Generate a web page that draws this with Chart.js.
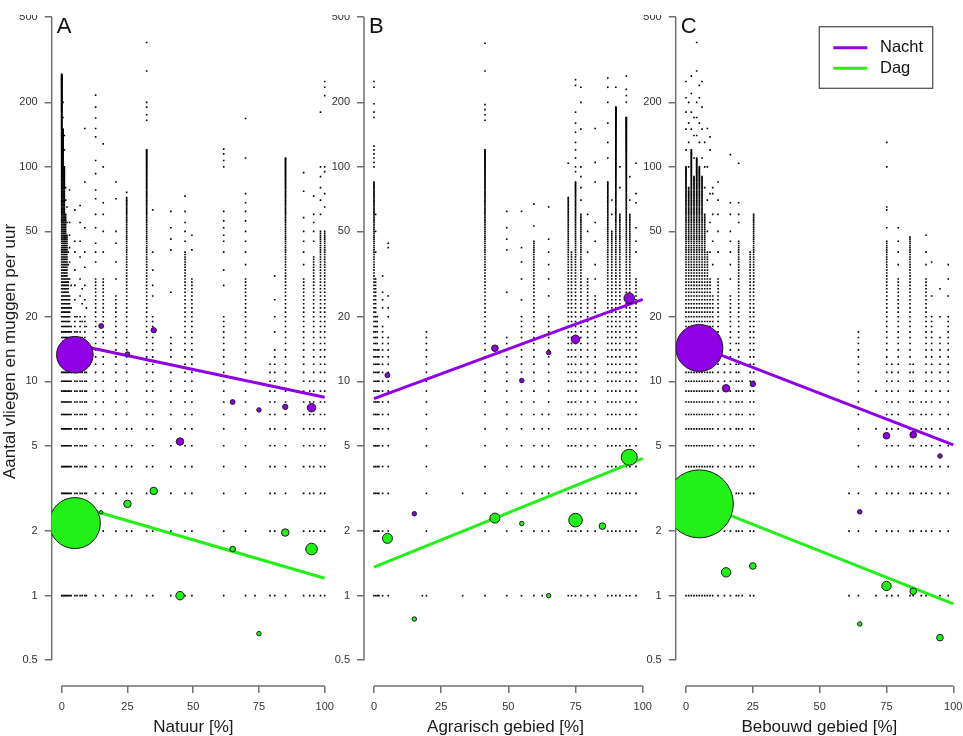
<!DOCTYPE html>
<html>
<head>
<meta charset="utf-8">
<script src="https://cdn.jsdelivr.net/npm/chart.js@4.4.1/dist/chart.umd.min.js"></script>
<style>
  html, body { margin: 0; padding: 0; background: #fff; }
  body { width: 963px; height: 736px; position: relative; overflow: hidden; }
  canvas { position: absolute; }
</style>
</head>
<body>
<canvas id="panelA"></canvas>
<canvas id="panelB"></canvas>
<canvas id="panelC"></canvas>
<script>
// Tick labels and shared categories
const yTicks = [0.5, 1, 2, 5, 10, 20, 50, 100, 200, 500];
const xTicks = [0, 25, 50, 75, 100];
const binMids = [5, 15, 25, 35, 45, 55, 65, 75, 85, 95];
const fitX = [0, 100];
const seriesNames = ["Nacht", "Dag"];

// Raw hourly counts per site: [land use %, all counts 1..n seen, higher single counts]
const rawNatuur = [
  [0, 270, []], [0.5, 150, [170, 200]], [1, 100, [120, 140]], [1.5, 60, [70, 80]],
  [2, 48, [55, 65]], [2.5, 30, [35, 40]], [3, 25, [30, 36, 42, 48, 55, 78]], [3.6, 18, [22, 28]],
  [5, 20, [24, 28, 33, 40, 45, 63]], [5.8, 14, [17, 20]], [7, 20, [25, 30, 38, 45, 55, 66]],
  [7.8, 16, [19, 23, 27]], [8.8, 20, [24, 28, 34, 40, 52, 85, 151]], [9.4, 14, [18, 22]],
  [12.9, 30, [36, 40, 44, 52, 60, 71, 78, 93, 107, 138, 151, 169, 190, 216]],
  [15.8, 30, [40, 50, 60, 68, 100, 128]], [20.6, 25, [30, 36, 44, 50, 71, 85]],
  [24.7, 72, [76]], [26.6, 6, []], [32.3, 120, [165, 175, 190, 200, 280, 380]],
  [34.6, 20, [25, 28, 33, 40, 63]], [41.5, 16, [26, 41, 46, 52, 62]],
  [46.9, 40, [45, 50, 55, 62, 73]], [49.5, 30, [41, 48]],
  [61.6, 20, [28, 33, 40, 45, 48, 52, 56, 62, 100, 107, 115, 121]],
  [69.9, 30, [35, 40, 45, 50, 56, 62, 68, 75, 110, 168]], [73.5, 0, [1]],
  [79.2, 12, []], [81, 14, [17, 20, 24, 31]], [85.1, 110, []],
  [92, 30, [35, 40, 45, 50, 58, 77, 94]], [94.3, 10, []], [95.8, 38, [45, 50, 55, 60, 73]],
  [98.4, 50, [60, 70, 80, 90, 100, 180]], [100, 50, [65, 75, 95, 100, 215, 235, 250]]
];
const rawAgrarisch = [
  [0, 85, [100, 105, 110, 115, 120, 125, 170, 180, 197, 235, 250]], [0.6, 30, [40, 50, 60]],
  [1.2, 20, []], [1.8, 14, []], [3.2, 18, [22, 24, 26, 31]], [5.3, 16, [20, 22, 25, 42, 44]],
  [18, 0, [1]], [19.5, 17, []], [33, 0, [1, 3]], [41.3, 120, [165, 175, 185, 195, 280, 377]],
  [49.4, 16, [26, 41, 46, 52, 62]], [54.9, 20, [24, 30, 36, 42, 62]], [59.5, 45, [53, 67]],
  [62.6, 7, []], [65, 20, [25, 30, 35, 40, 46, 65]], [72.3, 72, [104]], [73.5, 40, []],
  [75, 85, [95, 100, 110, 120, 130, 145, 160, 180, 240, 255]],
  [77, 60, [70, 80, 90, 100, 150, 200, 235]], [79.5, 30, [40, 50, 60]],
  [82.3, 25, [30, 35, 45, 55, 85, 105, 151]], [87, 85, [110, 130, 160, 200, 235, 260]],
  [88.5, 50, [60, 70]], [90, 190, [235]], [91.5, 60, [80, 100]],
  [93.9, 170, [200, 215, 230, 265]], [95.2, 60, [70, 90]], [97.5, 30, [40, 45, 52, 68, 75, 104]]
];
const rawBebouwd = [
  [0, 100, [120, 150, 180, 210, 250]], [1, 80, [100, 130, 160, 200]], [2, 120, [150, 180, 220, 265]],
  [3, 90, [110, 140, 170]], [4, 110, [140, 170, 200, 280, 380]], [5, 100, [130, 160, 210, 240]],
  [6, 90, [110, 150, 190, 250]], [7, 60, [80, 100, 130]], [8, 40, [50, 70, 100, 151]],
  [9, 30, [40, 55, 75, 120, 138]], [10, 25, [35, 45, 60, 75, 80]], [12, 30, [40, 50, 60, 70, 85]],
  [14.4, 12, []], [16.6, 25, [30, 35, 40, 45, 50, 60, 68, 114]], [18.8, 12, [15]],
  [19.7, 45, [55, 60, 68, 104]], [21, 10, []], [24, 40, []], [25.3, 60, []],
  [61, 0, [1, 2, 3]], [64.5, 17, []], [71.1, 0, [1, 2, 3, 4, 6, 9]],
  [75.1, 45, [52, 63, 65, 100, 130]], [77, 12, []], [79.4, 30, [35, 40, 45, 52]],
  [83.8, 47, []], [85, 12, []], [88, 8, []], [89.8, 30, [35, 40, 48]], [91.9, 20, [25, 36]],
  [95, 16, [20, 27]], [98.1, 20, [25, 30, 35]]
];

// Mean count per 10% class, and number of samples behind it
const nachtNatuur = [13.3, 18.1, 13.4, 17.3, 5.23, null, 8.0, 7.35, 7.6, 7.53];
const nachtNatuurN = [335, 6, 5, 7, 14, null, 6, 5, 7, 18];
const dagNatuur = [2.18, 2.45, 2.68, 3.08, 1.0, null, 1.65, 0.665, 1.97, 1.65];
const dagNatuurN = [650, 3, 14, 14, 18, null, 8, 5, 14, 34];

const nachtAgrarisch = [10.67, 2.41, null, null, 14.26, 10.07, 13.6, 15.7, null, 24.4];
const nachtAgrarischN = [6, 5, null, null, 11, 5, 5, 18, null, 28];
const dagAgrarisch = [1.85, 0.778, null, null, 2.3, 2.17, 1.0, 2.25, 2.11, 4.42];
const dagAgrarischN = [25, 5, null, null, 25, 5, 5, 46, 11, 64];

const nachtBebouwd = [14.3, 9.27, 9.71, null, null, null, 2.46, 5.57, 5.63, 4.48];
const nachtBebouwdN = [552, 14, 7, null, null, null, 5, 11, 11, 5];
const dagBebouwd = [2.68, 1.285, 1.375, null, null, null, 0.738, 1.11, 1.048, 0.637];
const dagBebouwdN = [1156, 22, 11, null, null, null, 5, 22, 11, 11];

// Fitted trend at 0% and 100%
const nachtFitNatuur = [15.3, 8.42];
const dagFitNatuur = [2.75, 1.205];
const nachtFitAgrarisch = [8.3, 24.1];
const dagFitAgrarisch = [1.357, 4.37];
const nachtFitBebouwd = [15.3, 5.05];
const dagFitBebouwd = [2.86, 0.915];

const FONT = "'Liberation Sans', Arial, Helvetica, sans-serif";
const purple = "#9000e4";
const green = "#22f018";
const seriesColors = [purple, green];
const axisGrey = "#707070";
const labelGrey = "#333333";

// page layout
const CANVAS_TOP = 15;
const CANVAS_H = 736 - CANVAS_TOP;
const PLOT_TOP = 17, PLOT_BOTTOM = 686, PX_PER_DECADE = 214.4;
const yMin = yTicks[yTicks.length - 1] / Math.pow(10, (PLOT_BOTTOM - PLOT_TOP) / PX_PER_DECADE);

function expandRaw(cols) {
  const pts = [];
  cols.forEach(([x, n, extra]) => {
    for (let c = 1; c <= n; c++) pts.push({ x: x, y: c });
    extra.forEach(v => pts.push({ x: x, y: v }));
  });
  return pts;
}

function meanPoints(ys, ns) {
  return binMids.map((x, i) => ({ x: x, y: ys[i], n: ns[i] })).filter(p => p.y != null);
}

function linePoints(ys) {
  return fitX.map((x, i) => ({ x: x, y: ys[i] }));
}

// R-style axis lines (first to last tick) and the panel letter
const rAxes = {
  id: "rAxes",
  beforeDatasetsDraw(chart, args, opts) {
    const { ctx, chartArea } = chart;
    const x = chart.scales.x, y = chart.scales.y;
    ctx.save();
    ctx.strokeStyle = axisGrey;
    ctx.lineWidth = 1.5;
    ctx.beginPath();
    ctx.moveTo(chartArea.left, y.getPixelForValue(yTicks[0]));
    ctx.lineTo(chartArea.left, y.getPixelForValue(yTicks[yTicks.length - 1]));
    ctx.moveTo(x.getPixelForValue(xTicks[0]), chartArea.bottom);
    ctx.lineTo(x.getPixelForValue(xTicks[xTicks.length - 1]), chartArea.bottom);
    ctx.stroke();
    ctx.fillStyle = "#111";
    ctx.font = "22px " + FONT;
    ctx.textBaseline = "alphabetic";
    ctx.fillText(opts.letter, chartArea.left + 5, chartArea.top + 15.5);
    ctx.restore();
  }
};

// boxed legend like the R plot
const boxLegend = {
  id: "boxLegend",
  afterDatasetsDraw(chart, args, opts) {
    if (!opts.show) return;
    const { ctx, chartArea } = chart;
    const left = chartArea.right - 143.7, top = chartArea.top + 9.7;
    ctx.save();
    ctx.fillStyle = "#fff";
    ctx.fillRect(left, top, 113.4, 61.6);
    ctx.strokeStyle = "#555";
    ctx.lineWidth = 1.3;
    ctx.strokeRect(left, top, 113.4, 61.6);
    ctx.font = "16.5px " + FONT;
    ctx.textBaseline = "middle";
    seriesNames.forEach((name, i) => {
      const y = top + 21 + i * 20.6;
      ctx.strokeStyle = seriesColors[i];
      ctx.lineWidth = 3;
      ctx.beginPath();
      ctx.moveTo(left + 14, y);
      ctx.lineTo(left + 48, y);
      ctx.stroke();
      ctx.fillStyle = "#111";
      ctx.fillText(name, left + 60.7, y);
    });
    ctx.restore();
  }
};

function buildPanel(p) {
  const canvas = document.getElementById(p.id);
  const width = p.right + p.padRight - p.left;
  canvas.width = width;
  canvas.height = CANVAS_H;
  canvas.style.left = p.left + "px";
  canvas.style.top = CANVAS_TOP + "px";
  canvas.style.width = width + "px";
  canvas.style.height = CANVAS_H + "px";
  const unit = (p.x100 - p.x0) / 100;

  return new Chart(canvas, {
    type: "scatter",
    data: {
      datasets: [
        {
          label: seriesNames[0],
          data: meanPoints(p.nacht, p.nachtN),
          backgroundColor: purple,
          borderColor: "#1a1a1a",
          borderWidth: 1,
          pointRadius: c => Math.sqrt(c.raw.n),
          clip: 0,
          order: 1
        },
        {
          label: seriesNames[1],
          data: meanPoints(p.dag, p.dagN),
          backgroundColor: green,
          borderColor: "#1a1a1a",
          borderWidth: 1,
          pointRadius: c => Math.sqrt(c.raw.n),
          clip: 0,
          order: 1
        },
        {
          type: "line",
          data: linePoints(p.nachtFit),
          borderColor: purple,
          borderWidth: 3,
          pointRadius: 0,
          clip: 0,
          order: 2
        },
        {
          type: "line",
          data: linePoints(p.dagFit),
          borderColor: green,
          borderWidth: 3,
          pointRadius: 0,
          clip: 0,
          order: 2
        },
        {
          data: expandRaw(p.raw),
          backgroundColor: "#000",
          pointStyle: "rect",
          pointRadius: 1.15,
          borderWidth: 0,
          clip: 0,
          order: 3
        }
      ]
    },
    options: {
      responsive: false,
      animation: false,
      events: [],
      layout: {
        autoPadding: false,
        padding: { top: PLOT_TOP - CANVAS_TOP, left: 0, right: p.padRight, bottom: 0 }
      },
      plugins: {
        legend: { display: false },
        tooltip: { enabled: false },
        rAxes: { letter: p.letter },
        boxLegend: { show: p.legend }
      },
      scales: {
        x: {
          type: "linear",
          bounds: "data",
          min: -(p.x0 - p.axisX) / unit,
          max: (p.right - p.x0) / unit,
          afterBuildTicks: s => { s.ticks = xTicks.map(v => ({ value: v })); },
          afterFit: s => {
            s.height = 736 - PLOT_BOTTOM;
            s.paddingLeft = 0;
            s.paddingRight = 0;
          },
          grid: { drawOnChartArea: false, tickLength: 7, color: axisGrey, lineWidth: 1.5 },
          border: { display: false },
          ticks: {
            color: labelGrey, padding: 7, maxRotation: 0, autoSkip: false,
            font: { family: FONT, size: 11 },
            callback: v => String(v)
          },
          title: {
            display: true, text: p.xTitle, color: "#1a1a1a",
            font: { family: FONT, size: 17, lineHeight: 1 },
            padding: { top: 0, bottom: 0.5 }
          }
        },
        y: {
          type: "logarithmic",
          bounds: "data",
          min: yMin,
          max: yTicks[yTicks.length - 1],
          afterBuildTicks: s => { s.ticks = yTicks.map(v => ({ value: v })); },
          afterFit: s => {
            s.width = p.axisX - p.left;
            s.paddingTop = 0;
            s.paddingBottom = 0;
          },
          grid: { drawOnChartArea: false, tickLength: 7, color: axisGrey, lineWidth: 1.5 },
          border: { display: false },
          ticks: {
            color: labelGrey, padding: 7, autoSkip: false,
            font: { family: FONT, size: 11 },
            callback: v => String(v)
          },
          title: {
            display: !!p.yTitle, text: p.yTitle || "", color: "#1a1a1a",
            font: { family: FONT, size: 17 },
            padding: { top: 0, bottom: 0 }
          }
        }
      }
    },
    plugins: [rAxes, boxLegend]
  });
}

buildPanel({
  id: "panelA", letter: "A", left: 0, right: 335, padRight: 0, axisX: 51.7, x0: 61.7, x100: 324.7,
  xTitle: "Natuur [%]", yTitle: "Aantal vliegen en muggen per uur",
  raw: rawNatuur, nacht: nachtNatuur, nachtN: nachtNatuurN, dag: dagNatuur, dagN: dagNatuurN,
  nachtFit: nachtFitNatuur, dagFit: dagFitNatuur, legend: false
});
buildPanel({
  id: "panelB", letter: "B", left: 320, right: 647, padRight: 13, axisX: 364, x0: 374, x100: 642.7,
  xTitle: "Agrarisch gebied [%]",
  raw: rawAgrarisch, nacht: nachtAgrarisch, nachtN: nachtAgrarischN, dag: dagAgrarisch, dagN: dagAgrarischN,
  nachtFit: nachtFitAgrarisch, dagFit: dagFitAgrarisch, legend: false
});
buildPanel({
  id: "panelC", letter: "C", left: 632, right: 963, padRight: 0, axisX: 675.7, x0: 686, x100: 953.3,
  xTitle: "Bebouwd gebied [%]",
  raw: rawBebouwd, nacht: nachtBebouwd, nachtN: nachtBebouwdN, dag: dagBebouwd, dagN: dagBebouwdN,
  nachtFit: nachtFitBebouwd, dagFit: dagFitBebouwd, legend: true
});
</script>
</body>
</html>
